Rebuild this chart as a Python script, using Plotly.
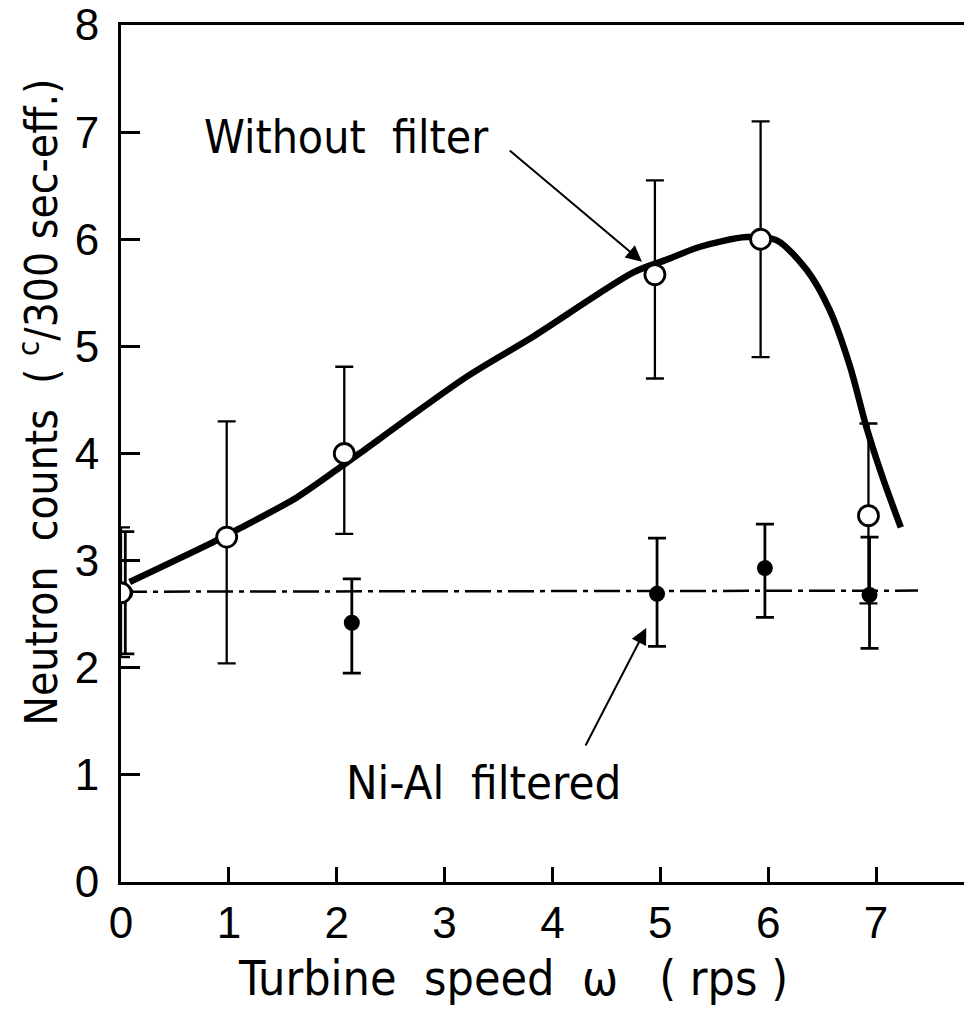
import plotly.graph_objects as go

# Without filter (open circles)
speed_open = [0.0, 0.98, 2.07, 4.95, 5.93, 6.93]
counts_open = [2.70, 3.22, 4.00, 5.67, 6.00, 3.42]
open_hi = [3.31, 4.30, 4.81, 6.55, 7.10, 4.28]
open_lo = [2.10, 2.04, 3.25, 4.70, 4.90, 2.60]

# Ni-Al filtered (filled circles)
speed_filled = [0.04, 2.14, 4.97, 5.97, 6.94]
counts_filled = [2.70, 2.42, 2.69, 2.93, 2.68]
filled_hi = [3.27, 2.83, 3.21, 3.34, 3.22]
filled_lo = [2.13, 1.95, 2.20, 2.47, 2.18]

# hand-drawn trend curve through the unfiltered data
curve_x = [0.08, 0.85, 1.10, 1.63, 2.03, 2.21, 3.21, 3.82, 4.75, 5.06, 5.37, 5.80,
           6.08, 6.36, 6.57, 6.76, 6.91, 7.06, 7.23]
curve_y = [2.80, 3.17, 3.30, 3.59, 3.87, 4.00, 4.72, 5.09, 5.69, 5.81, 5.93, 6.02,
           5.99, 5.71, 5.34, 4.81, 4.25, 3.78, 3.31]

# flat dash-dot level for the filtered runs
level_x = [0.0, 7.39]
level_y = [2.71, 2.72]

x_ticks = [0, 1, 2, 3, 4, 5, 6, 7]
y_ticks = [0, 1, 2, 3, 4, 5, 6, 7, 8]

NARROW = "DejaVu Sans Condensed, Liberation Sans Narrow, sans-serif"
DIGITS = "Liberation Sans, Arial, sans-serif"

fig = go.Figure()

fig.add_trace(go.Scatter(
    x=curve_x, y=curve_y, mode="lines",
    line=dict(color="black", width=6.5, shape="spline", smoothing=0.8),
    hoverinfo="skip"
))

fig.add_trace(go.Scatter(
    x=level_x, y=level_y, mode="lines",
    line=dict(color="black", width=2.5, dash="26px,6px,5px,6px"),
    hoverinfo="skip"
))

fig.add_trace(go.Scatter(
    x=speed_filled, y=counts_filled, mode="markers",
    marker=dict(symbol="circle", size=16, color="black"),
    error_y=dict(type="data", symmetric=False,
                 array=[h - v for h, v in zip(filled_hi, counts_filled)],
                 arrayminus=[v - l for v, l in zip(counts_filled, filled_lo)],
                 color="black", thickness=2.8, width=9),
    name="Ni-Al filtered"
))

fig.add_trace(go.Scatter(
    x=speed_open, y=counts_open, mode="markers",
    marker=dict(symbol="circle", size=20, color="white",
                line=dict(color="black", width=2.8)),
    error_y=dict(type="data", symmetric=False,
                 array=[h - v for h, v in zip(open_hi, counts_open)],
                 arrayminus=[v - l for v, l in zip(counts_open, open_lo)],
                 color="black", thickness=2.3, width=9),
    name="Without filter"
))

# labels with arrows
fig.add_annotation(x=4.83, y=5.79, ax=3.59, ay=6.84, axref="x", ayref="y",
                   text="", showarrow=True, arrowhead=2, arrowsize=1.6,
                   arrowwidth=2, arrowcolor="black")
fig.add_annotation(x=4.87, y=2.37, ax=4.30, ay=1.26, axref="x", ayref="y",
                   text="", showarrow=True, arrowhead=2, arrowsize=1.6,
                   arrowwidth=2, arrowcolor="black")
fig.add_annotation(x=2.09, y=6.95, text="Without&nbsp;&nbsp;filter", showarrow=False,
                   font=dict(family=NARROW, size=46, color="black"))
fig.add_annotation(x=3.36, y=0.93, text="Ni-Al&nbsp;&nbsp;filtered", showarrow=False,
                   font=dict(family=NARROW, size=47, color="black"))

# axis titles
fig.add_annotation(xref="paper", yref="paper", x=0.461, y=-0.112,
                   xanchor="center", yanchor="middle",
                   text="Turbine&nbsp;&nbsp;speed&nbsp;&nbsp;ω&nbsp;&nbsp;&nbsp;( rps )",
                   showarrow=False, font=dict(family=NARROW, size=48, color="black"))
fig.add_annotation(xref="paper", yref="paper", x=-0.098, y=0.56, textangle=-90,
                   xanchor="center", yanchor="middle",
                   text="Neutron&nbsp;&nbsp;counts&nbsp;&nbsp;( <sup>c</sup>/300 sec-eff.)",
                   showarrow=False, font=dict(family=NARROW, size=44, color="black"))

fig.update_xaxes(
    range=[0, 7.89], tickvals=x_ticks, ticktext=[str(t) for t in x_ticks],
    showline=True, linecolor="black", linewidth=3, mirror=True,
    ticks="inside", ticklen=15, tickwidth=2.5, tickcolor="black",
    showgrid=False, zeroline=False, automargin=False, ticklabeloverflow="allow",
    tickfont=dict(family=DIGITS, size=44, color="black")
)
fig.update_yaxes(
    range=[0, 8], tickvals=y_ticks, ticktext=[str(t) for t in y_ticks],
    showline=True, linecolor="black", linewidth=3,
    ticks="inside", ticklen=19, tickwidth=2.5, tickcolor="black",
    showgrid=False, zeroline=False, ticklabelstandoff=10, automargin=False,
    ticklabeloverflow="allow",
    tickfont=dict(family=DIGITS, size=44, color="black")
)

# page body adds an 8px offset, so the figure is sized to end at the window edge
fig.update_layout(
    width=964, height=1004,
    margin=dict(l=113, r=0, t=17, b=130, pad=0, autoexpand=False),
    paper_bgcolor="white", plot_bgcolor="white",
    showlegend=False
)

fig.write_html("out.html")
